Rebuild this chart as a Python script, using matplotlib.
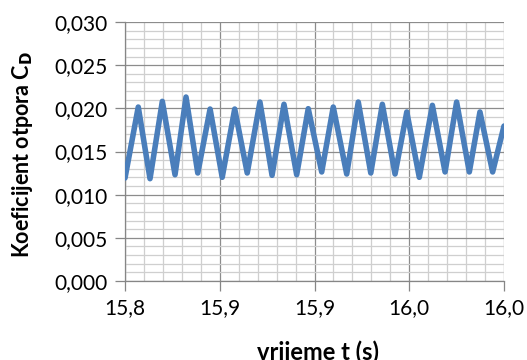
import numpy as np
import matplotlib
matplotlib.use('Agg')
import matplotlib.pyplot as plt
from matplotlib.ticker import MultipleLocator, FixedLocator, FuncFormatter

# vrijeme t (s) i koeficijent otpora CD (vrhovi i dolovi ocitani sa slike)
t_s = [15.8000, 15.8070, 15.8132, 15.8197, 15.8264, 15.8322, 15.8384, 15.8449,
       15.8513, 15.8579, 15.8645, 15.8712, 15.8776, 15.8839, 15.8906, 15.8967,
       15.9038, 15.9099, 15.9170, 15.9231, 15.9297, 15.9358, 15.9425, 15.9487,
       15.9553, 15.9622, 15.9689, 15.9750, 15.9817, 15.9873, 15.9940, 16.0000]
cd = [0.01193, 0.02015, 0.01185, 0.02081, 0.01231, 0.02131, 0.01251, 0.01992,
      0.01201, 0.01992, 0.01251, 0.02073, 0.01224, 0.02047, 0.01231, 0.01996,
      0.01263, 0.02015, 0.01239, 0.02073, 0.01251, 0.02047, 0.01239, 0.01958,
      0.01201, 0.02035, 0.01263, 0.02073, 0.01263, 0.01958, 0.01263, 0.01795]

x_ticks = [15.80, 15.85, 15.90, 15.95, 16.00]
x_tick_labels = ['15,8', '15,9', '15,9', '16,0', '16,0']

plt.rcParams['font.family'] = ['Lato', 'DejaVu Sans']

fig = plt.figure(figsize=(5.27, 3.6), dpi=100)
ax = fig.add_axes([125/527, 79/360, 379/527, 259/360])

ax.plot(t_s, cd, color='#4a7ebb', linewidth=4.0, solid_joinstyle='round',
        solid_capstyle='round', zorder=3)

ax.set_xlim(15.8, 16.0)
ax.set_ylim(0, 0.030)
ax.xaxis.set_major_locator(FixedLocator(x_ticks))
ax.set_xticklabels(x_tick_labels)
ax.xaxis.set_minor_locator(MultipleLocator(0.01))
ax.yaxis.set_major_locator(MultipleLocator(0.005))
ax.yaxis.set_minor_locator(MultipleLocator(0.001))
ax.yaxis.set_major_formatter(FuncFormatter(lambda v, p: f'{v:.3f}'.replace('.', ',')))

ax.grid(which='major', color='#8c8c8c', linewidth=0.9, zorder=1)
ax.grid(which='minor', color='#cfcfcf', linewidth=0.9, zorder=0)
ax.set_axisbelow(True)

for s in ['top', 'right']:
    ax.spines[s].set_visible(False)
for s in ['left', 'bottom']:
    ax.spines[s].set_color('#868686')
    ax.spines[s].set_linewidth(0.9)

ax.tick_params(which='major', direction='out', length=7.5, width=0.9, color='#868686',
               labelsize=15, pad=5)
ax.tick_params(which='minor', length=0)

# naslovi osi
fig.text(318/527, 1 - 340/360, 'vrijeme t (s)', fontsize=17, fontweight='bold',
         ha='center', va='top')
fig.text(23/527, 1 - 155/360, r'Koeficijent otpora C$_\mathbf{D}$', fontsize=15.5,
         fontweight='bold', rotation=90, ha='center', va='center')

fig.savefig('out.png', dpi=100)
